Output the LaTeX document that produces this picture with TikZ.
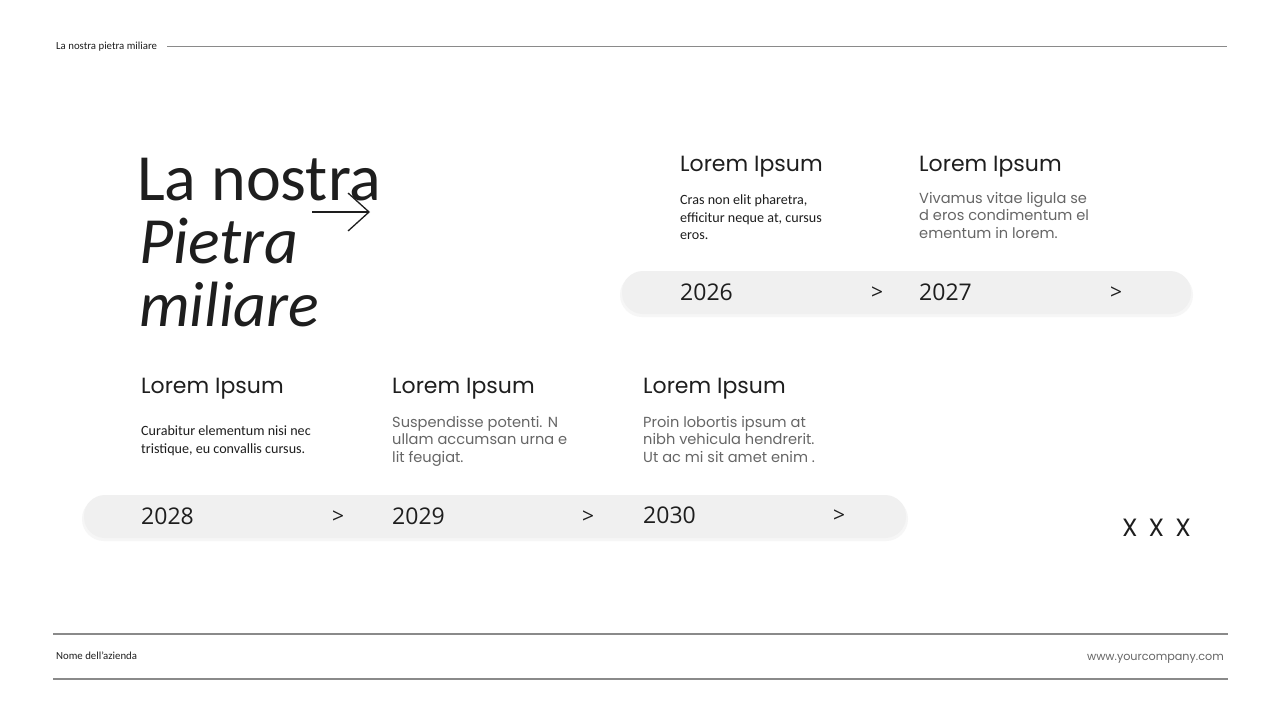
\documentclass[tikz,border=0pt]{standalone}
\usepackage{fontspec}
\setmainfont{Carlito}
\newfontfamily\titlefont{Carlito}
\newfontfamily\headfont{Poppins}
\newfontfamily\yearfont{Open Sans}
\usetikzlibrary{arrows.meta}
\definecolor{ink}{HTML}{1E1E1E}
\definecolor{soft}{HTML}{666666}
\definecolor{rule}{HTML}{8A8A8A}
\definecolor{pill}{HTML}{F0F0F0}
\definecolor{pillshade}{HTML}{F6F6F6}
\tikzset{
  small/.style={anchor=base west,inner sep=0,font=\fontsize{10.8}{12}\selectfont,text=ink},
  head/.style={anchor=base west,inner sep=0,font=\headfont\fontsize{22}{26}\selectfont,text=ink},
  darkbody/.style={anchor=north west,inner sep=0,align=left,font=\fontsize{14.1}{17.5}\selectfont,text=ink},
  lightbody/.style={anchor=north west,inner sep=0,align=left,font=\headfont\fontsize{14.6}{17.5}\selectfont,text=soft},
  year/.style={anchor=base west,inner sep=0,font=\yearfont\fontsize{23}{26}\selectfont,text=ink},
  chev/.style={anchor=base west,inner sep=0,font=\yearfont\fontsize{21}{24}\selectfont,text=ink},
  band/.style={fill=pill,rounded corners=21pt,draw=none},
  bandshade/.style={fill=pillshade,rounded corners=22pt,draw=none},
  rulel/.style={draw=rule,line width=1.1pt}
}
\begin{document}
\begin{tikzpicture}[x=1pt,y=-1pt]
\useasboundingbox[fill=white] (0,0) rectangle (1280,720);
% header
\node[small] (hdr) at (56,49.5) {La nostra pietra miliare};
\coordinate (hdrEnd) at (1227,46.5);
\draw[rulel] (167,46.5) -- (hdrEnd);
% title
\node[anchor=base west,inner sep=0,font=\titlefont\fontsize{66}{70}\selectfont,text=ink] (t1) at (137,200) {La nostra};
\node[anchor=base west,inner sep=0,font=\titlefont\itshape\fontsize{66}{70}\selectfont,text=ink] (t2) at (139,263) {Pietra};
\node[anchor=base west,inner sep=0,font=\titlefont\itshape\fontsize{64}{70}\selectfont,text=ink] (t3) at (139,326) {miliare};
\coordinate (arA) at (312,212);
\coordinate (arB) at (370,212);
\draw[ink,line width=1.3pt,-{Straight Barb[length=21pt,width=38pt,line width=1.3pt]}] (arA) -- (arB);
% top band
\fill[bandshade] (620,273) rectangle (1193,317);
\fill[band] (622,271) rectangle (1191,314);
\node[head] (h26) at (680,171) {Lorem Ipsum};
\node[darkbody] (b26) at (680,195) {Cras non elit pharetra,\\efficitur neque at, cursus\\eros.};
\node[year] (y26) at (680,300) {2026};
\node[chev] (c26) at (871,299.5) {>};
\node[head] (h27) at (919,171) {Lorem Ipsum};
\node[lightbody] (b27) at (919,192) {Vivamus vitae ligula se\\d eros condimentum el\\ementum in lorem.};
\node[year] (y27) at (919,300) {2027};
\node[chev] (c27) at (1110,299.5) {>};
% bottom band
\fill[bandshade] (82,497) rectangle (908,541);
\fill[band] (84,495) rectangle (906,538);
\node[head] (h28) at (141,393) {Lorem Ipsum};
\node[darkbody] (b28) at (141,426) {Curabitur elementum nisi nec\\tristique, eu convallis cursus.};
\node[year] (y28) at (141,524) {2028};
\node[chev] (c28) at (332,523.5) {>};
\node[head] (h29) at (392,393) {Lorem Ipsum};
\node[lightbody] (b29) at (392,416) {Suspendisse potenti. N\\ullam accumsan urna e\\lit feugiat.};
\node[year] (y29) at (392,524) {2029};
\node[chev] (c29) at (582,523.5) {>};
\node[head] (h30) at (643,393) {Lorem Ipsum};
\node[lightbody] (b30) at (643,416) {Proin lobortis ipsum at\\nibh vehicula hendrerit.\\Ut ac mi sit amet enim .};
\node[year] (y30) at (643,523) {2030};
\node[chev] (c30) at (833,522.5) {>};
\node[anchor=base west,inner sep=0,font=\headfont\fontsize{25}{26}\selectfont,text=ink] (xxx) at (1122,536) {X\hspace{11pt}X\hspace{11pt}X};
% footer
\coordinate (f1a) at (53,634); \coordinate (f1b) at (1228,634);
\coordinate (f2a) at (53,679); \coordinate (f2b) at (1228,679);
\draw[rulel] (f1a) -- (f1b);
\draw[rulel] (f2a) -- (f2b);
\node[small] (nome) at (56,659.5) {Nome dell'azienda};
\node[anchor=base east,inner sep=0,font=\headfont\fontsize{11.2}{12}\selectfont,text=soft] (www) at (1224,660) {www.yourcompany.com};
\end{tikzpicture}
\end{document}
